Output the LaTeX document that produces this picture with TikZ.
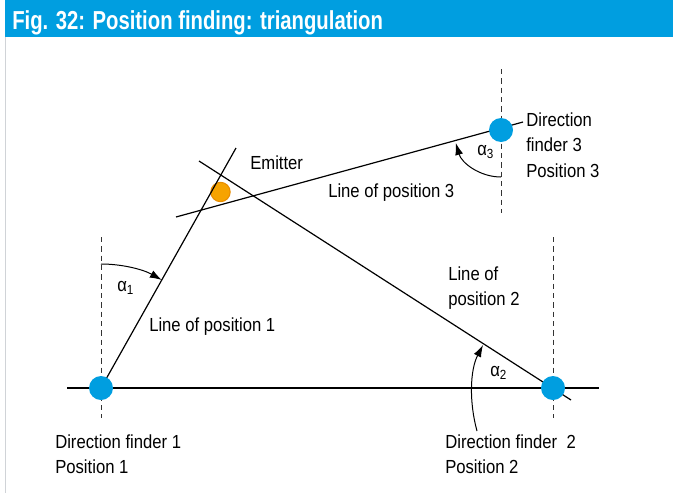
\documentclass[tikz,border=0pt]{standalone}
\usepackage{fontspec}
\setmainfont{Liberation Sans}
\newfontfamily\bodyfont[FakeStretch=0.88]{Liberation Sans}
\newfontfamily\titlefont[FakeStretch=0.78]{Liberation Sans}
\usetikzlibrary{arrows.meta,calc}

\definecolor{dfblue}{RGB}{0,158,224}
\definecolor{emorange}{RGB}{246,163,0}
\definecolor{emedge}{RGB}{232,140,0}
\definecolor{framegray}{RGB}{208,211,215}

\tikzset{
  finder/.style={circle,fill=dfblue,minimum size=18pt,inner sep=0pt},
  source/.style={circle,fill=emorange,draw=emedge,line width=0.8pt,minimum size=14.5pt,inner sep=0pt},
  lop/.style={line width=0.9pt},
  bearing/.style={line width=0.6pt,dash pattern=on 4pt off 3pt,black!80},
  anglearc/.style={line width=0.75pt,-{Latex[length=9pt,width=6pt]}},
  lbl/.style={font=\bodyfont\fontsize{14.2}{19}\selectfont,inner sep=0pt,align=left},
}

\begin{document}
\begin{tikzpicture}[x=0.75pt,y=-0.75pt]
  \useasboundingbox (0,0) rectangle (673,493);
  % header and frame
  \fill[dfblue] (5,0) rectangle (673,36.5);
  \draw[framegray,line width=1pt] (5.5,36.5) -- (5.5,493);
  \node[anchor=base west,inner sep=0pt,text=white,
        font=\titlefont\bfseries\fontsize{19.5}{22}\selectfont] (title) at (12,29.3)
        {Fig. 32: Position finding: triangulation};

  \coordinate (P1) at (101,388);
  \coordinate (P2) at (553,388);
  \coordinate (P3) at (501,130);
  \coordinate (E) at (220.5,192);

  % bearings (north)
  \coordinate (B1t) at (101,237);   \coordinate (B1b) at (101,418);
  \coordinate (B2t) at (553,237);   \coordinate (B2b) at (553,418);
  \coordinate (B3t) at (501,69);    \coordinate (B3b) at (501,213);
  \draw[bearing] (B1t) -- (B1b);
  \draw[bearing] (B2t) -- (B2b);
  \draw[bearing] (B3t) -- (B3b);

  \node[source] (emitter) at (E) {};

  % lines of position
  \coordinate (L0w) at (67,388);    \coordinate (L0e) at (599,388);
  \coordinate (L1e) at (236,148);
  \coordinate (L2s) at (199,161);   \coordinate (L2e) at (571,400);
  \coordinate (L3s) at (176,217);   \coordinate (L3e) at (523,122);
  \draw[lop] (L0w) -- (L0e);
  \draw[lop] (P1) -- (L1e);
  \draw[lop] (L2s) -- (L2e);
  \draw[lop] (L3s) -- (L3e);

  % angles
  \draw[anglearc] (P1) ++(-90:124) arc[start angle=-90,end angle=-60.6,radius=124];
  \coordinate (A2s) at (477,431);   \coordinate (A2e) at (483,345);
  \draw[anglearc] (A2s) .. controls (469,402) and (470,370) .. (A2e);
  \draw[anglearc] (P3) ++(90:47) arc[start angle=90,end angle=164,radius=47];

  \node[finder] (DF1) at (P1) {};
  \node[finder] (DF2) at (P2) {};
  \node[finder] (DF3) at (P3) {};

  \node[lbl,anchor=west] (a1) at (117,288) {α\textsubscript{1}};
  \node[lbl,anchor=west] (a2) at (490,373) {α\textsubscript{2}};
  \node[lbl,anchor=west] (a3) at (477,152) {α\textsubscript{3}};

  \node[lbl,anchor=west] (emlabel) at (250,163) {Emitter};
  \node[lbl,anchor=west] (lop1) at (149,327) {Line of position 1};
  \node[lbl,anchor=west] (lop2) at (448,288) {Line of\\position 2};
  \node[lbl,anchor=west] (lop3) at (328,193) {Line of position 3};
  \node[lbl,anchor=west] (df1label) at (55,454) {Direction finder 1\\Position 1};
  \node[lbl,anchor=west] (df2label) at (445,454) {Direction finder~ 2\\Position 2};
  \node[lbl,anchor=west] (df3label) at (526,145) {Direction\\finder 3\\Position 3};
\end{tikzpicture}
\end{document}
